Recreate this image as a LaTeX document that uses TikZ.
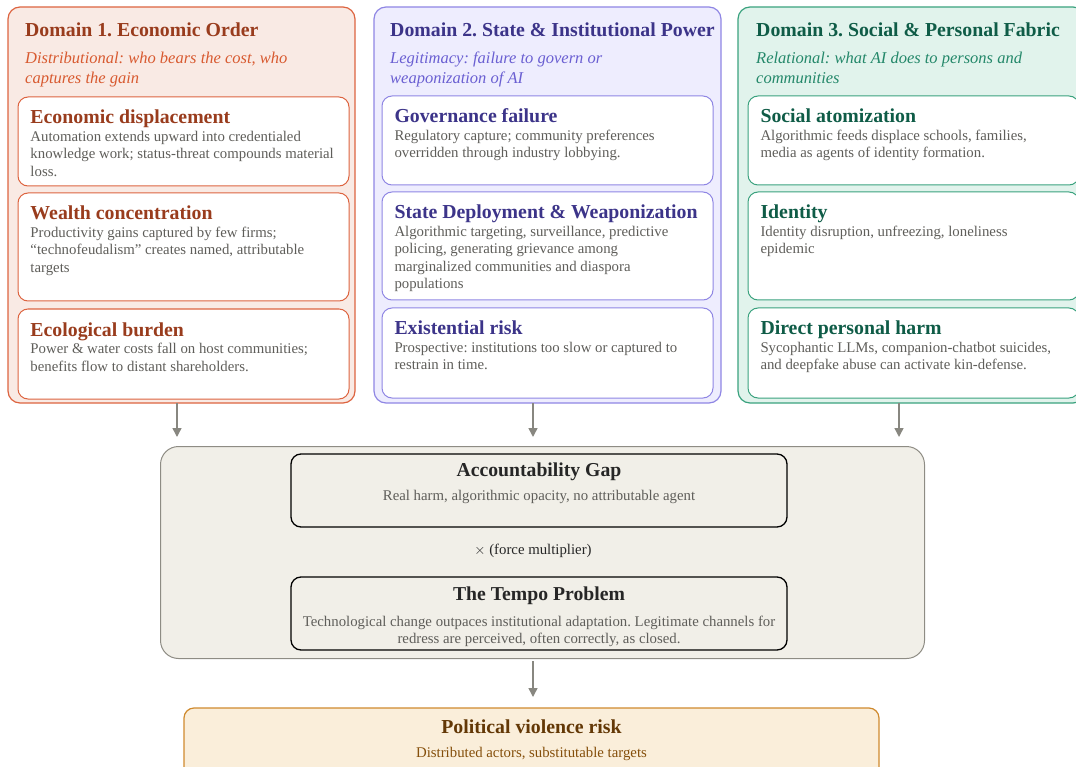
\documentclass[tikz,border=0pt]{standalone}
\usepackage{fontspec}
\setmainfont{Liberation Serif}
\usetikzlibrary{positioning}
\usetikzlibrary{arrows.meta}
\frenchspacing

\definecolor{econfill}{HTML}{F9EAE4}
\definecolor{econline}{HTML}{DD6440}
\definecolor{econdark}{HTML}{993C1D}
\definecolor{econmid}{HTML}{D85A30}
\definecolor{statefill}{HTML}{EEEDFE}
\definecolor{stateline}{HTML}{8F86E4}
\definecolor{statedark}{HTML}{3C3489}
\definecolor{statemid}{HTML}{6A5FD2}
\definecolor{socfill}{HTML}{E1F3EC}
\definecolor{socline}{HTML}{3AA27E}
\definecolor{socdark}{HTML}{0F5C47}
\definecolor{socmid}{HTML}{24886A}
\definecolor{gapfill}{HTML}{F1EFE8}
\definecolor{gapline}{HTML}{8E8C84}
\definecolor{riskfill}{HTML}{FAEEDA}
\definecolor{riskline}{HTML}{CF8A2E}
\definecolor{riskdark}{HTML}{633806}
\definecolor{riskmid}{HTML}{854F0B}
\definecolor{descgray}{HTML}{5F5E5A}
\definecolor{arrowgray}{HTML}{888780}

% card contents
\newcommand{\cardtitle}[2]{{\fontsize{19.8}{18}\selectfont\bfseries\color{#1}\rule{0pt}{27pt}#2\par}}
\newcommand{\carddesc}[1]{{\fontsize{14.8}{17.5}\selectfont\color{descgray}#1\par}}

\begin{document}
\begin{tikzpicture}[x=1pt,y=-1pt,
    domainbox/.style={draw, rounded corners=12pt, line width=1.2pt, anchor=north west,
        inner sep=0pt, outer sep=0pt, minimum width=347pt, minimum height=396pt},
    dtitle/.style={anchor=base west, inner sep=0pt, font=\fontsize{19.8}{19.8}\selectfont\bfseries},
    dsub/.style={anchor=base west, inner sep=0pt, align=left,
        font=\fontsize{16.5}{20.5}\selectfont\itshape},
    card/.style={draw, fill=white, rounded corners=10pt, line width=1pt, anchor=north west,
        inner xsep=12.5pt, inner ysep=0pt, outer sep=0pt},
    panel/.style={draw=black, line width=1.3pt, rounded corners=10pt, anchor=north west,
        inner sep=0pt, outer sep=0pt},
    flow/.style={draw=arrowgray, line width=1.5pt, -{Triangle[length=9pt,width=9pt]}}]

\clip (0,0) rectangle (1076,767);

% Domain containers
\node[domainbox, draw=econline, fill=econfill] (econ) at (8,7) {};
\node[domainbox, draw=stateline, fill=statefill] (state) at (374,7) {};
\node[domainbox, draw=socline, fill=socfill] (soc) at (738,7) {};

\node[dtitle, text=econdark] (econtitle) at (25,37) {Domain 1. Economic Order};
\node[dtitle, text=statedark] (statetitle) at (390,37) {Domain 2. State \& Institutional Power};
\node[dtitle, text=socdark] (soctitle) at (756,37) {Domain 3. Social \& Personal Fabric};

\node[dsub, text=econmid] (econsub) at (25,84) {Distributional: who bears the cost, who\\captures the gain};
\node[dsub, text=statemid] (statesub) at (390,84) {Legitimacy: failure to govern or\\weaponization of AI};
\node[dsub, text=socmid] (socsub) at (756,84) {Relational: what AI does to persons and\\communities};

% Domain 1 cards
\node[card, draw=econline] (displace) at (18,97) {\parbox[t][89pt][t]{306pt}{%
    \cardtitle{econdark}{Economic displacement}
    \carddesc{Automation extends upward into credentialed\\knowledge work; status-threat compounds material\\loss.}}};
\node[card, draw=econline] (wealth) at (18,193) {\parbox[t][108pt][t]{306pt}{%
    \cardtitle{econdark}{Wealth concentration}
    \carddesc{Productivity gains captured by few firms;\\``technofeudalism'' creates named, attributable\\targets}}};
\node[card, draw=econline] (ecology) at (18,309) {\parbox[t][90pt][t]{306pt}{%
    \cardtitle{econdark}{Ecological burden}
    \carddesc{Power \& water costs fall on host communities;\\benefits flow to distant shareholders.}}};

% Domain 2 cards
\node[card, draw=stateline] (govern) at (382,96) {\parbox[t][89pt][t]{306pt}{%
    \cardtitle{statedark}{Governance failure}
    \carddesc{Regulatory capture; community preferences\\overridden through industry lobbying.}}};
\node[card, draw=stateline] (weapon) at (382,192) {\parbox[t][108pt][t]{306pt}{%
    \cardtitle{statedark}{State Deployment \& Weaponization}
    \carddesc{Algorithmic targeting, surveillance, predictive\\policing, generating grievance among\\marginalized communities and diaspora\\populations}}};
\node[card, draw=stateline] (exist) at (382,308) {\parbox[t][90pt][t]{306pt}{%
    \cardtitle{statedark}{Existential risk}
    \carddesc{Prospective: institutions too slow or captured to\\restrain in time.}}};

% Domain 3 cards
\node[card, draw=socline] (atom) at (748,96) {\parbox[t][89pt][t]{306pt}{%
    \cardtitle{socdark}{Social atomization}
    \carddesc{Algorithmic feeds displace schools, families,\\media as agents of identity formation.}}};
\node[card, draw=socline] (ident) at (748,192) {\parbox[t][108pt][t]{306pt}{%
    \cardtitle{socdark}{Identity}
    \carddesc{Identity disruption, unfreezing, loneliness\\epidemic}}};
\node[card, draw=socline] (harm) at (748,308) {\parbox[t][90pt][t]{306pt}{%
    \cardtitle{socdark}{Direct personal harm}
    \carddesc{Sycophantic LLMs, companion-chatbot suicides,\\and deepfake abuse can activate kin-defense.}}};

% Multiplier block
\node[draw=gapline, fill=gapfill, line width=1pt, rounded corners=18pt, anchor=north west,
    inner sep=0pt, minimum width=764pt, minimum height=212pt] (gap) at (160,446) {};
\node[panel] (account) at (291,454) {\parbox[t][73pt][t]{496pt}{\centering
    {\fontsize{19.7}{18}\selectfont\bfseries\color{black!85}\rule{0pt}{22pt}Accountability Gap\par}
    {\fontsize{14.8}{17.5}\selectfont\color{descgray}\rule{0pt}{19pt}Real harm, algorithmic opacity, no attributable agent\par}}};
\node[inner sep=0pt, font=\fontsize{14.8}{14.8}\selectfont, text=black!85] (mult) at (533,551) {$\times$ (force multiplier)};
\node[panel] (tempo) at (291,577) {\parbox[t][73pt][t]{496pt}{\centering
    {\fontsize{19.7}{18}\selectfont\bfseries\color{black!85}\rule{0pt}{23pt}The Tempo Problem\par}
    {\fontsize{14.8}{17.5}\selectfont\color{descgray}\rule{0pt}{21pt}Technological change outpaces institutional adaptation. Legitimate channels for\\redress are perceived, often correctly, as closed.\par}}};

% Outcome
\node[draw=riskline, fill=riskfill, line width=1.2pt, rounded corners=10pt, anchor=north west,
    inner sep=0pt, outer sep=0pt] (risk) at (184,708) {\parbox[t][70pt][t]{695pt}{\centering
    {\fontsize{19.8}{18}\selectfont\bfseries\color{riskdark}\rule{0pt}{25pt}Political violence risk\par}
    {\fontsize{14.8}{17.5}\selectfont\color{riskmid}\rule{0pt}{23pt}Distributed actors, substitutable targets\par}}};

% Connectors
\coordinate (in1) at (177,437);
\coordinate (in2) at (533,437);
\coordinate (in3) at (899,437);
\coordinate (out) at (533,697);
\draw[flow] (econ.south -| in1) -- (in1);
\draw[flow] (state.south -| in2) -- (in2);
\draw[flow] (soc.south -| in3) -- (in3);
\draw[flow] (gap.south -| out) ++(0,2) -- (out);
\end{tikzpicture}
\end{document}
